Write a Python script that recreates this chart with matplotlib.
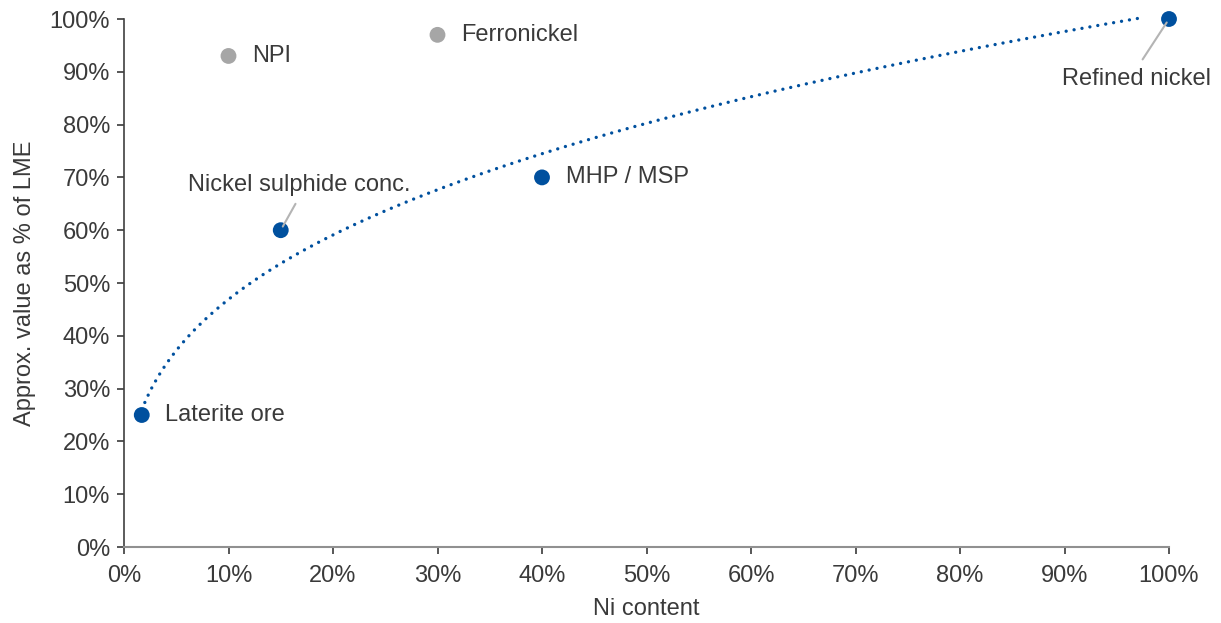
import numpy as np
import matplotlib
matplotlib.use('Agg')
import matplotlib.pyplot as plt
from matplotlib.ticker import PercentFormatter

plt.rcParams['font.family'] = ['Liberation Sans', 'DejaVu Sans']

# Ni content vs approx. value as % of LME
products = ["Laterite ore", "Nickel sulphide conc.", "MHP / MSP", "Refined nickel"]
ni_content = [0.017, 0.15, 0.40, 1.00]
lme_value = [0.25, 0.60, 0.70, 1.00]

other_products = ["NPI", "Ferronickel"]
other_ni = [0.10, 0.30]
other_value = [0.93, 0.97]

blue = '#00509E'
grey = '#A6A6A6'
text_col = '#3A3A3A'
leader = dict(arrowstyle='-', color='#B4B4B4', lw=1.5, shrinkB=3)

fig = plt.figure(figsize=(12.21, 6.23), dpi=100)
ax = fig.add_axes([124 / 1221, 1 - 547 / 623, (1169 - 124) / 1221, (547 - 19) / 623])

# power trendline through the main products
c, ln_a = np.polyfit(np.log(ni_content), np.log(lme_value), 1)
xs = np.linspace(ni_content[0], 0.975, 400)
ax.plot(xs, np.exp(ln_a) * xs ** c, color=blue, lw=2.4, ls=(0, (0.01, 2.4)),
        dash_capstyle='round', zorder=2, clip_on=False)

ax.scatter(ni_content, lme_value, s=130, color=blue, zorder=3, edgecolors='none',
           clip_on=False)
ax.scatter(other_ni, other_value, s=130, color=grey, zorder=3, edgecolors='none',
           clip_on=False)

fs = 17
ax.annotate(products[0], (ni_content[0], lme_value[0]), xytext=(23, 0),
            textcoords='offset pixels', va='center', ha='left', fontsize=fs, color=text_col)
ax.annotate(products[1], (ni_content[1], lme_value[1]), xytext=(19, 45),
            textcoords='offset pixels', va='center', ha='center', fontsize=fs, color=text_col,
            arrowprops=dict(leader, shrinkA=4, relpos=(0.5, 0)))
ax.annotate(products[2], (ni_content[2], lme_value[2]), xytext=(24, 0),
            textcoords='offset pixels', va='center', ha='left', fontsize=fs, color=text_col)
ax.annotate(products[3], (ni_content[3], lme_value[3]), xytext=(-32, -60),
            textcoords='offset pixels', va='center', ha='center', fontsize=fs, color=text_col,
            arrowprops=dict(leader, shrinkA=5, relpos=(0.5, 1)))
for name, x, y in zip(other_products, other_ni, other_value):
    ax.annotate(name, (x, y), xytext=(24, 0), textcoords='offset pixels',
                va='center', ha='left', fontsize=fs, color=text_col)

ax.set_xlim(0, 1)
ax.set_ylim(0, 1)
ax.set_xticks(np.arange(0, 1.01, 0.1))
ax.set_yticks(np.arange(0, 1.01, 0.1))
ax.xaxis.set_major_formatter(PercentFormatter(1, decimals=0))
ax.yaxis.set_major_formatter(PercentFormatter(1, decimals=0))
ax.tick_params(labelsize=fs, colors=text_col, direction='out', length=5, width=1.2)
ax.tick_params(axis='x', pad=8)
ax.tick_params(axis='y', pad=5)
for side in ['top', 'right']:
    ax.spines[side].set_visible(False)
ax.spines['left'].set_color('#404040')
ax.spines['bottom'].set_color('#909090')
ax.spines['left'].set_linewidth(1.2)
ax.spines['bottom'].set_linewidth(1.5)

ax.set_xlabel('Ni content', fontsize=fs, color=text_col, labelpad=8)
ax.set_ylabel('Approx. value as % of LME', fontsize=fs, color=text_col, labelpad=10)

fig.savefig('out.png', dpi=100)
